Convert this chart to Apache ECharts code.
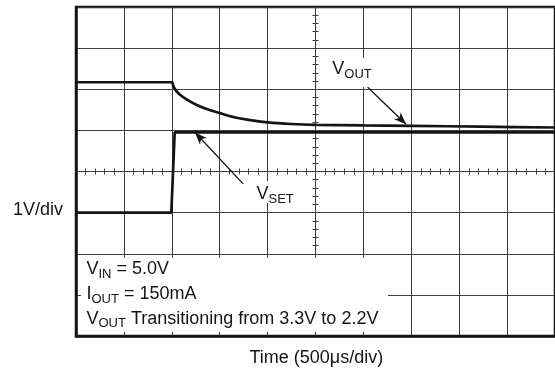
<!DOCTYPE html>
<html>
<head>
<meta charset="utf-8">
<script src="https://cdn.jsdelivr.net/npm/echarts@6/dist/echarts.min.js"></script>
<style>
  html, body { margin: 0; padding: 0; background: #fff; }
  #chart { width: 555px; height: 372px; }
</style>
</head>
<body>
<div id="chart"></div>
<script>
// Oscilloscope capture: time in µs from the centre graticule (500 µs/div),
// trace level in divisions from the centre line (1 V/div).
const xRange = [-2500, 2500];
const xStep = 500;
const yRange = [-4, 4];
const yStep = 1;

// V_OUT: steps down from 3.3 V and settles towards 2.2 V
const vOutTime  = [-2500, -1500, -1485, -1460, -1420, -1350, -1250, -1150, -1000, -850, -700, -500, -250, 0, 500, 1000, 1750, 2500];
const vOutLevel = [2.17, 2.17, 2.08, 1.98, 1.88, 1.76, 1.63, 1.53, 1.42, 1.32, 1.255, 1.195, 1.155, 1.135, 1.12, 1.11, 1.09, 1.07];

// V_SET: logic step
const vSetTime  = [-2500, -1505, -1470, 2500];
const vSetLevel = [-1.0, -1.0, 0.95, 0.95];

// Annotation arrows: [tail, head] in axis units
const vOutArrow = [[545, 2.05], [945, 1.15]];
const vSetArrow = [[-755, -0.30], [-1257, 0.95]];

// Texts: runs of [text, isSubscript]
const xTitle = 'Time (500μs/div)';
const yScaleNote = '1V/div';
const vOutName = [['V', 0], ['OUT', 1]];
const vSetName = [['V', 0], ['SET', 1]];
const conditionLines = [
  [['V', 0], ['IN', 1], [' = 5.0V', 0]],
  [['I', 0], ['OUT', 1], [' = 150mA', 0]],
  [['V', 0], ['OUT', 1], [' Transitioning from 3.3V to 2.2V', 0]]
];

const INK = '#141414';
const GRID = '#3e3e3e';
const FONT = '"Liberation Sans", Arial, Helvetica, sans-serif';
const MAIN_FS = 18;
const SUB_FS = 13;
const SUB_DROP = 3.5;

const chart = echarts.init(document.getElementById('chart'), null, { renderer: 'canvas' });

function pairs(xs, ys) { return xs.map((x, i) => [x, ys[i]]); }

function frameAxis(dim, position) {
  return {
    type: 'value', min: dim === 'x' ? xRange[0] : yRange[0], max: dim === 'x' ? xRange[1] : yRange[1],
    interval: dim === 'x' ? xStep : yStep, position: position,
    axisLine: { show: true, onZero: false, lineStyle: { color: INK, width: 2.5 } },
    axisTick: { show: false }, axisLabel: { show: false },
    splitLine: { show: true, lineStyle: { color: GRID, width: 1 } }
  };
}
// Centre graticule line with fine ticks (5 per division) on one side
function centreAxis(dim, position, inside) {
  return {
    type: 'value', min: dim === 'x' ? xRange[0] : yRange[0], max: dim === 'x' ? xRange[1] : yRange[1],
    interval: dim === 'x' ? xStep : yStep, position: position,
    axisLine: { show: true, onZero: true, lineStyle: { color: GRID, width: 1 } },
    axisTick: { show: false, inside: inside },
    minorTick: { show: true, splitNumber: 5, length: 3, lineStyle: { color: GRID, width: 1 } },
    axisLabel: { show: false }, splitLine: { show: false }
  };
}

const arrowStyle = { color: INK, width: 1.3, type: 'solid' };

chart.setOption({
  animation: false,
  backgroundColor: '#fff',
  grid: { left: 76, top: 7, width: 487, height: 329, show: true, borderColor: INK, borderWidth: 2.5, backgroundColor: 'transparent' },
  xAxis: [frameAxis('x', 'bottom'), centreAxis('x', 'top', false), centreAxis('x', 'top', true)],
  yAxis: [frameAxis('y', 'left'), centreAxis('y', 'right', false), centreAxis('y', 'right', true)],
  series: [
    {
      name: 'VOUT', type: 'line', xAxisIndex: 0, yAxisIndex: 0, data: pairs(vOutTime, vOutLevel),
      showSymbol: false, smooth: 0.3, z: 5,
      lineStyle: { color: INK, width: 2.7 },
      markLine: {
        silent: true, symbol: ['none', 'arrow'], symbolSize: [7, 12], animation: false,
        label: { show: false }, lineStyle: arrowStyle,
        data: [[{ coord: vOutArrow[0] }, { coord: vOutArrow[1] }]]
      }
    },
    {
      name: 'VSET', type: 'line', xAxisIndex: 0, yAxisIndex: 0, data: pairs(vSetTime, vSetLevel),
      showSymbol: false, z: 5,
      lineStyle: { color: INK, width: 2.7 },
      markLine: {
        silent: true, symbol: ['none', 'arrow'], symbolSize: [7, 12], animation: false,
        label: { show: false }, lineStyle: arrowStyle,
        data: [[{ coord: vSetArrow[0] }, { coord: vSetArrow[1] }]]
      }
    }
  ]
});

// Text measuring for runs with subscripts
const measureCtx = document.createElement('canvas').getContext('2d');
function textWidth(t, fs) { measureCtx.font = fs + 'px ' + FONT; return measureCtx.measureText(t).width; }

function textEl(t, x, baseline, fs, align) {
  return {
    type: 'text', z: 40, x: x, y: baseline - 0.3465 * fs, silent: true,
    style: { text: t, font: fs + 'px ' + FONT, fill: INK, align: align || 'left', verticalAlign: 'middle',
             textAlign: align || 'left', textVerticalAlign: 'middle' }
  };
}
function runEls(parts, x, baseline) {
  const out = [];
  let cx = x;
  parts.forEach(([t, sub]) => {
    const fs = sub ? SUB_FS : MAIN_FS;
    out.push(textEl(t, cx, baseline + (sub ? SUB_DROP : 0), fs));
    cx += textWidth(t, fs);
  });
  return out;
}
function whiteRect(x, y, w, h) {
  return { type: 'rect', z: 20, silent: true, shape: { x: x, y: y, width: w, height: h }, style: { fill: '#fff' } };
}

const px = (p) => chart.convertToPixel({ gridIndex: 0 }, p);
const bl = px([xRange[0], -2]);   // top-left of the conditions panel
const br = px([xRange[0], yRange[0]]);

const els = [];
// conditions panel, leaving short grid stubs along its edges
els.push(whiteRect(bl[0] + 5, bl[1] + 4, 388 - (bl[0] + 5), (br[1] - 4) - (bl[1] + 4)));
els.push(whiteRect(328, 58, 48, 29));   // behind V_OUT name
els.push(whiteRect(252, 181, 46, 22));  // behind V_SET name
conditionLines.forEach((line, i) => { els.push(...runEls(line, 86.5, 275.5 + i * 24.7)); });
els.push(...runEls(vOutName, 332.3, 75.5));
els.push(...runEls(vSetName, 256.5, 200));
els.push(textEl(yScaleNote, 63, 216, MAIN_FS, 'right'));
els.push(textEl(xTitle, 316.3, 364.3, MAIN_FS, 'center'));

chart.setOption({ graphic: { elements: els } });
</script>
</body>
</html>
